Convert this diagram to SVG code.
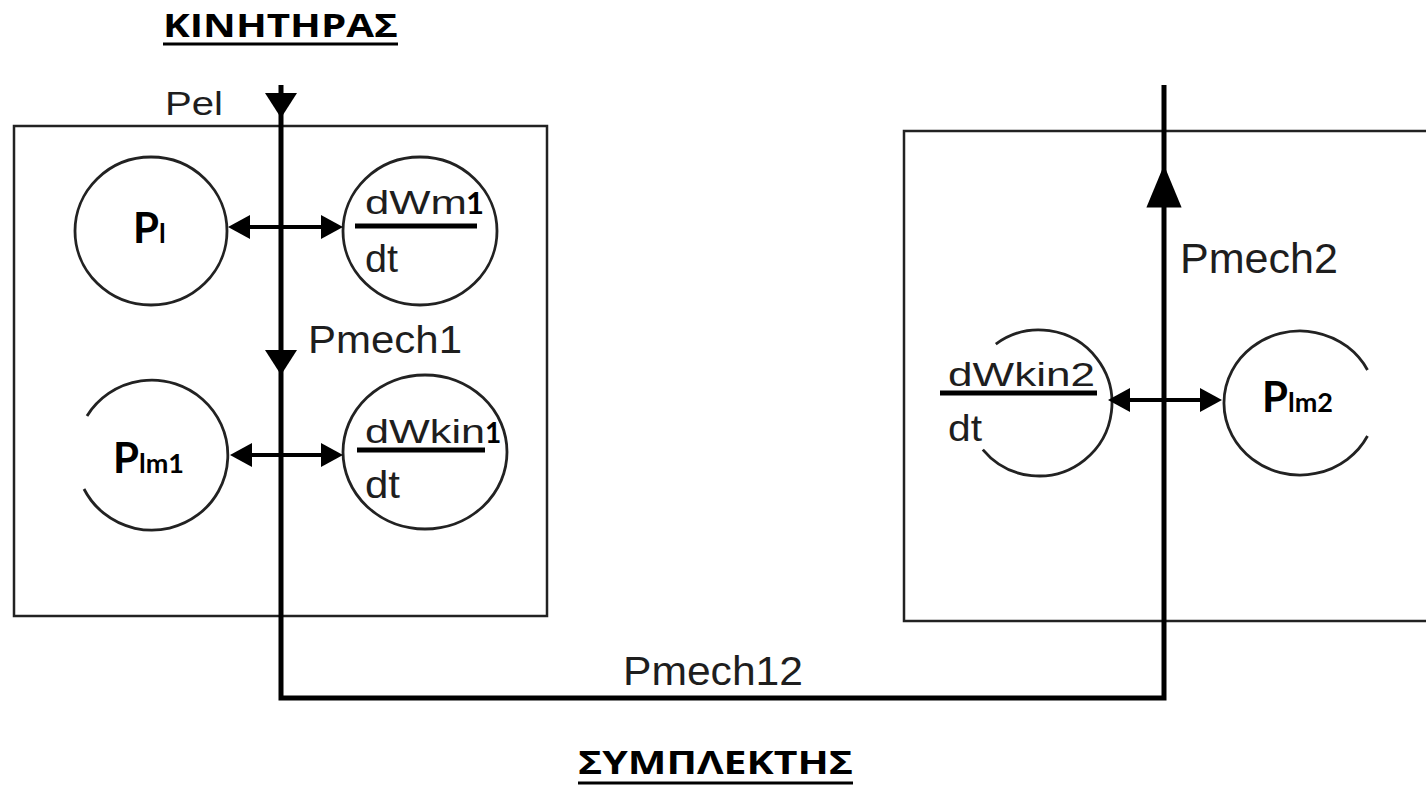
<svg xmlns="http://www.w3.org/2000/svg" xmlns:xlink="http://www.w3.org/1999/xlink" width="1426" height="785" viewBox="0 0 1426 785">
  <style>
    .box { fill: none; stroke: #222; stroke-width: 2.5; }
    .ring { fill: none; stroke: #222; stroke-width: 2.8; }
    .flow { fill: none; stroke: #000; stroke-width: 5; }
    .link { fill: none; stroke: #000; stroke-width: 4; marker-start: url(#tip); marker-end: url(#tip); }
    .bar { stroke: #000; stroke-width: 5; }
    .lbl { font-family: "Liberation Sans", Arial, sans-serif; fill: #1e1e1e; }
    .sym { font-family: Lato, "Open Sans", sans-serif; font-weight: bold; fill: #000; }
    .title { font-family: "Open Sans", "Noto Sans", sans-serif; font-weight: bold; fill: #000; }
  </style>
  <defs>
    <marker id="tip" viewBox="0 0 22 24" refX="12" refY="12" markerWidth="22" markerHeight="24" markerUnits="userSpaceOnUse" orient="auto-start-reverse">
      <path d="M0,0 L22,12 L0,24 Z" fill="#000"/>
    </marker>
    <!-- downward arrowhead, tip at origin -->
    <path id="vhead" d="M0,0 L-16,-25 L16,-25 Z" fill="#000"/>
  </defs>

  <rect width="1426" height="785" fill="#fff"/>

  <!-- titles -->
  <g id="title-engine">
    <text class="title" x="163" y="37" font-size="33" textLength="235" lengthAdjust="spacingAndGlyphs">ΚΙΝΗΤΗΡΑΣ</text>
    <line x1="163" y1="44" x2="398" y2="44" stroke="#000" stroke-width="3"/>
  </g>
  <g id="title-clutch">
    <text class="title" x="578" y="774" font-size="33" textLength="275" lengthAdjust="spacingAndGlyphs">ΣΥΜΠΛΕΚΤΗΣ</text>
    <line x1="578" y1="783" x2="853" y2="783" stroke="#000" stroke-width="3"/>
  </g>

  <!-- enclosures -->
  <g id="engine-box"><rect class="box" x="14" y="126" width="533" height="490"/></g>
  <g id="clutch-box"><rect class="box" x="904" y="131" width="600" height="490"/></g>

  <!-- engine nodes -->
  <g id="node-pl">
    <ellipse class="ring" cx="151" cy="231" rx="76" ry="74"/>
    <text class="sym" x="133" y="243" font-size="42">P<tspan font-size="27">l</tspan></text>
  </g>
  <g id="node-dwm1">
    <ellipse class="ring" cx="420" cy="231" rx="77" ry="74"/>
    <text class="lbl" x="365" y="214" font-size="33" textLength="102" lengthAdjust="spacingAndGlyphs">dWm</text>
    <text class="sym" x="466" y="214" font-size="31">1</text>
    <line class="bar" x1="355" y1="226" x2="477" y2="226"/>
    <text class="lbl" x="365" y="272" font-size="38" textLength="33" lengthAdjust="spacingAndGlyphs">dt</text>
  </g>
  <g id="node-plm1">
    <path class="ring" d="M87,416 A76,75 0 1 1 84,489"/>
    <text class="sym" x="113" y="473" font-size="42">P<tspan font-size="27">lm1</tspan></text>
  </g>
  <g id="node-dwkin1">
    <ellipse class="ring" cx="425" cy="452" rx="82" ry="77"/>
    <text class="lbl" x="365" y="443" font-size="33" textLength="120" lengthAdjust="spacingAndGlyphs">dWkin</text>
    <text class="sym" x="485" y="443" font-size="28">1</text>
    <line class="bar" x1="357" y1="450" x2="485" y2="450"/>
    <text class="lbl" x="365" y="498" font-size="38" textLength="35" lengthAdjust="spacingAndGlyphs">dt</text>
  </g>

  <!-- clutch nodes -->
  <g id="node-dwkin2">
    <path class="ring" d="M995.8,344.1 A73,73 0 1 1 982.8,449.6"/>
    <text class="lbl" x="948" y="386" font-size="34" textLength="147" lengthAdjust="spacingAndGlyphs">dWkin2</text>
    <line class="bar" x1="940" y1="393" x2="1097" y2="393"/>
    <text class="lbl" x="948" y="441" font-size="36" textLength="34" lengthAdjust="spacingAndGlyphs">dt</text>
  </g>
  <g id="node-plm2">
    <path class="ring" d="M1367.5,370 A76,72 0 1 0 1367.5,436"/>
    <text class="sym" x="1262" y="412" font-size="42">P<tspan font-size="27">lm2</tspan></text>
  </g>

  <!-- power flow connectors -->
  <g id="connectors">
    <path class="flow" d="M281,85 V698 H1164 V85"/>
    <use xlink:href="#vhead" href="#vhead" transform="translate(281,118)"/>
    <use xlink:href="#vhead" href="#vhead" transform="translate(281,375)"/>
    <use xlink:href="#vhead" href="#vhead" transform="translate(1164,165) scale(1.1,-1.7)"/>
    <path class="link" d="M238,227 H333"/>
    <path class="link" d="M240,455 H333"/>
    <path class="link" d="M1118,400 H1212"/>
    <text class="lbl" x="165" y="115" font-size="34" textLength="58" lengthAdjust="spacingAndGlyphs">Pel</text>
    <text class="lbl" x="308" y="353" font-size="38" textLength="154" lengthAdjust="spacingAndGlyphs">Pmech1</text>
    <text class="lbl" x="1180" y="273" font-size="42" textLength="158" lengthAdjust="spacingAndGlyphs">Pmech2</text>
    <text class="lbl" x="623" y="685" font-size="40" textLength="180" lengthAdjust="spacingAndGlyphs">Pmech12</text>
  </g>
</svg>
